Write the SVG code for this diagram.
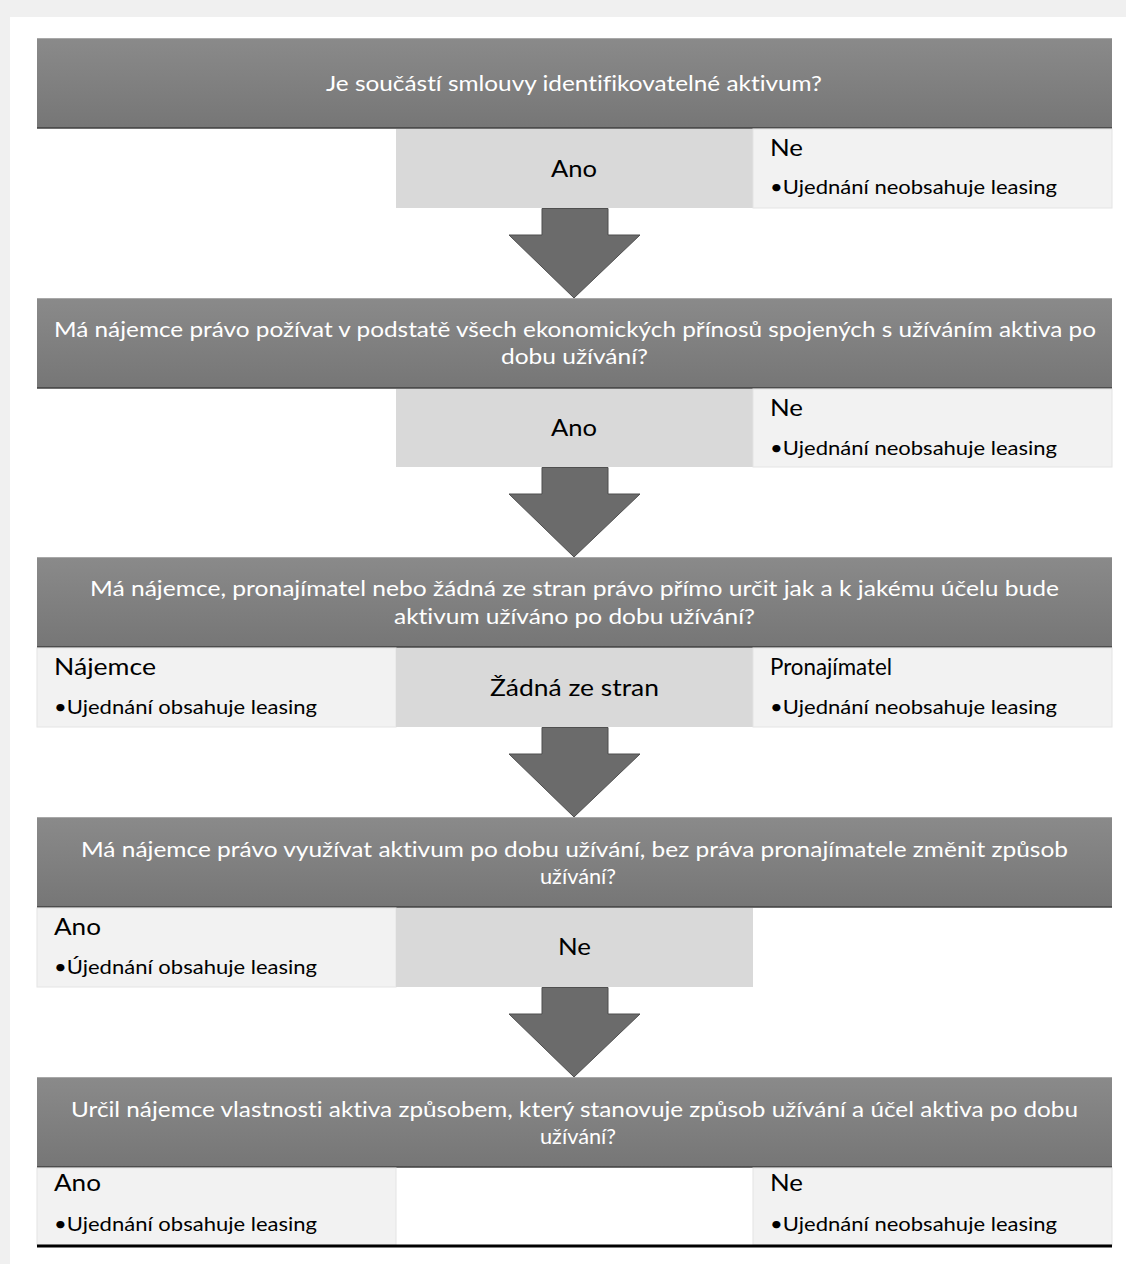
<svg xmlns="http://www.w3.org/2000/svg" width="1126" height="1264" viewBox="0 0 1126 1264">
<defs>
<linearGradient id="hg" x1="0" y1="0" x2="0" y2="1">
<stop offset="0" stop-color="#8a8a8a"/>
<stop offset="1" stop-color="#767676"/>
</linearGradient>
<style>
text{font-variant-ligatures:none;font-feature-settings:"liga" 0}
.hdr{fill:url(#hg);stroke:none}
.hline{stroke:#3f3f3f;stroke-width:1.5}
.htop{stroke:#a8a8a8;stroke-width:1}
.lt{fill:#f2f2f2;stroke:#e4e4e4;stroke-width:1}
.md{fill:#d9d9d9;stroke:none}
.ht{font-family:Lato,"Liberation Sans",Arial,sans-serif;font-size:22px;fill:#ffffff;text-anchor:middle}
.big{font-family:Lato,"Liberation Sans",Arial,sans-serif;font-size:24px;fill:#000000}
.mid{text-anchor:middle}
.bul{font-family:Lato,"Liberation Sans",Arial,sans-serif;font-size:19px;fill:#000000}
.arr{fill:#6b6b6b;stroke:#4f4f4f;stroke-width:1}
</style>
</defs>
<rect x="0" y="0" width="1126" height="1264" fill="#f0f0f0"/>
<rect x="10" y="17" width="1116" height="1247" fill="#ffffff"/>

<g id="q1">
<rect class="hdr" x="37" y="38" width="1075" height="90"/>
<line class="htop" x1="37" y1="38.5" x2="1112" y2="38.5"/>
<line class="hline" x1="37" y1="128" x2="1112" y2="128"/>
<text class="ht" x="574" y="91" textLength="496" lengthAdjust="spacingAndGlyphs">Je součástí smlouvy identifikovatelné aktivum?</text>
</g>
<g id="r1">
<rect class="md" x="396" y="129" width="357" height="79"/>
<rect class="lt" x="753" y="129" width="359" height="79"/>
<text class="big mid" x="574" y="177" textLength="46" lengthAdjust="spacingAndGlyphs">Ano</text>
<text class="big" x="770" y="156" textLength="33" lengthAdjust="spacingAndGlyphs">Ne</text>
<text class="bul" x="770" y="194" textLength="287" lengthAdjust="spacingAndGlyphs">•Ujednání neobsahuje leasing</text>
</g>

<g id="q2">
<rect class="hdr" x="37" y="298" width="1075" height="90"/>
<line class="htop" x1="37" y1="298.5" x2="1112" y2="298.5"/>
<line class="hline" x1="37" y1="388" x2="1112" y2="388"/>
<text class="ht" x="575" y="337" textLength="1042" lengthAdjust="spacingAndGlyphs">Má nájemce právo požívat v podstatě všech ekonomických přínosů spojených s užíváním aktiva po</text>
<text class="ht" x="574.5" y="364" textLength="147" lengthAdjust="spacingAndGlyphs">dobu užívání?</text>
</g>
<g id="r2">
<rect class="md" x="396" y="389" width="357" height="78"/>
<rect class="lt" x="753" y="389" width="359" height="78"/>
<text class="big mid" x="574" y="436" textLength="46" lengthAdjust="spacingAndGlyphs">Ano</text>
<text class="big" x="770" y="416" textLength="33" lengthAdjust="spacingAndGlyphs">Ne</text>
<text class="bul" x="770" y="455" textLength="287" lengthAdjust="spacingAndGlyphs">•Ujednání neobsahuje leasing</text>
</g>

<g id="q3">
<rect class="hdr" x="37" y="557" width="1075" height="90"/>
<line class="htop" x1="37" y1="557.5" x2="1112" y2="557.5"/>
<line class="hline" x1="37" y1="647" x2="1112" y2="647"/>
<text class="ht" x="574.5" y="596" textLength="969" lengthAdjust="spacingAndGlyphs">Má nájemce, pronajímatel nebo žádná ze stran právo přímo určit jak a k jakému účelu bude</text>
<text class="ht" x="574.5" y="624" textLength="361" lengthAdjust="spacingAndGlyphs">aktivum užíváno po dobu užívání?</text>
</g>
<g id="r3">
<rect class="lt" x="37" y="648" width="359" height="79"/>
<rect class="md" x="396" y="648" width="357" height="79"/>
<rect class="lt" x="753" y="648" width="359" height="79"/>
<text class="big" x="54" y="675" textLength="102" lengthAdjust="spacingAndGlyphs">Nájemce</text>
<text class="bul" x="54" y="714" textLength="263" lengthAdjust="spacingAndGlyphs">•Ujednání obsahuje leasing</text>
<text class="big mid" x="574.5" y="696" textLength="169" lengthAdjust="spacingAndGlyphs">Žádná ze stran</text>
<text class="big" x="770" y="675" textLength="122" lengthAdjust="spacingAndGlyphs">Pronajímatel</text>
<text class="bul" x="770" y="714" textLength="287" lengthAdjust="spacingAndGlyphs">•Ujednání neobsahuje leasing</text>
</g>

<g id="q4">
<rect class="hdr" x="37" y="817" width="1075" height="90"/>
<line class="htop" x1="37" y1="817.5" x2="1112" y2="817.5"/>
<line class="hline" x1="37" y1="907" x2="1112" y2="907"/>
<text class="ht" x="574.5" y="857" textLength="987" lengthAdjust="spacingAndGlyphs">Má nájemce právo využívat aktivum po dobu užívání, bez práva pronajímatele změnit způsob</text>
<text class="ht" x="578" y="884" textLength="76" lengthAdjust="spacingAndGlyphs">užívání?</text>
</g>
<g id="r4">
<rect class="lt" x="37" y="908" width="359" height="79"/>
<rect class="md" x="396" y="908" width="357" height="79"/>
<text class="big" x="54" y="935" textLength="47" lengthAdjust="spacingAndGlyphs">Ano</text>
<text class="bul" x="54" y="974" textLength="263" lengthAdjust="spacingAndGlyphs">•Újednání obsahuje leasing</text>
<text class="big mid" x="574.5" y="955" textLength="33" lengthAdjust="spacingAndGlyphs">Ne</text>
</g>

<g id="q5">
<rect class="hdr" x="37" y="1077" width="1075" height="90"/>
<line class="htop" x1="37" y1="1077.5" x2="1112" y2="1077.5"/>
<line class="hline" x1="37" y1="1167" x2="1112" y2="1167"/>
<text class="ht" x="574.5" y="1117" textLength="1007" lengthAdjust="spacingAndGlyphs">Určil nájemce vlastnosti aktiva způsobem, který stanovuje způsob užívání a účel aktiva po dobu</text>
<text class="ht" x="578" y="1144" textLength="76" lengthAdjust="spacingAndGlyphs">užívání?</text>
</g>
<g id="r5">
<rect class="lt" x="37" y="1168" width="359" height="77"/>
<rect class="lt" x="753" y="1168" width="359" height="77"/>
<text class="big" x="54" y="1191" textLength="47" lengthAdjust="spacingAndGlyphs">Ano</text>
<text class="bul" x="54" y="1231" textLength="263" lengthAdjust="spacingAndGlyphs">•Ujednání obsahuje leasing</text>
<text class="big" x="770" y="1191" textLength="33" lengthAdjust="spacingAndGlyphs">Ne</text>
<text class="bul" x="770" y="1231" textLength="287" lengthAdjust="spacingAndGlyphs">•Ujednání neobsahuje leasing</text>
<line x1="37" y1="1246" x2="1112" y2="1246" stroke="#000000" stroke-width="3"/>
</g>

<g id="connectors">
<polygon class="arr" points="542,208.5 608,208.5 608,235 640,235 574,298 509,235 542,235"/>
<polygon class="arr" points="542,467.5 608,467.5 608,494 640,494 574,557 509,494 542,494"/>
<polygon class="arr" points="542,727.5 608,727.5 608,754 640,754 574,817 509,754 542,754"/>
<polygon class="arr" points="542,987.5 608,987.5 608,1014 640,1014 574,1077 509,1014 542,1014"/>
</g>
</svg>
